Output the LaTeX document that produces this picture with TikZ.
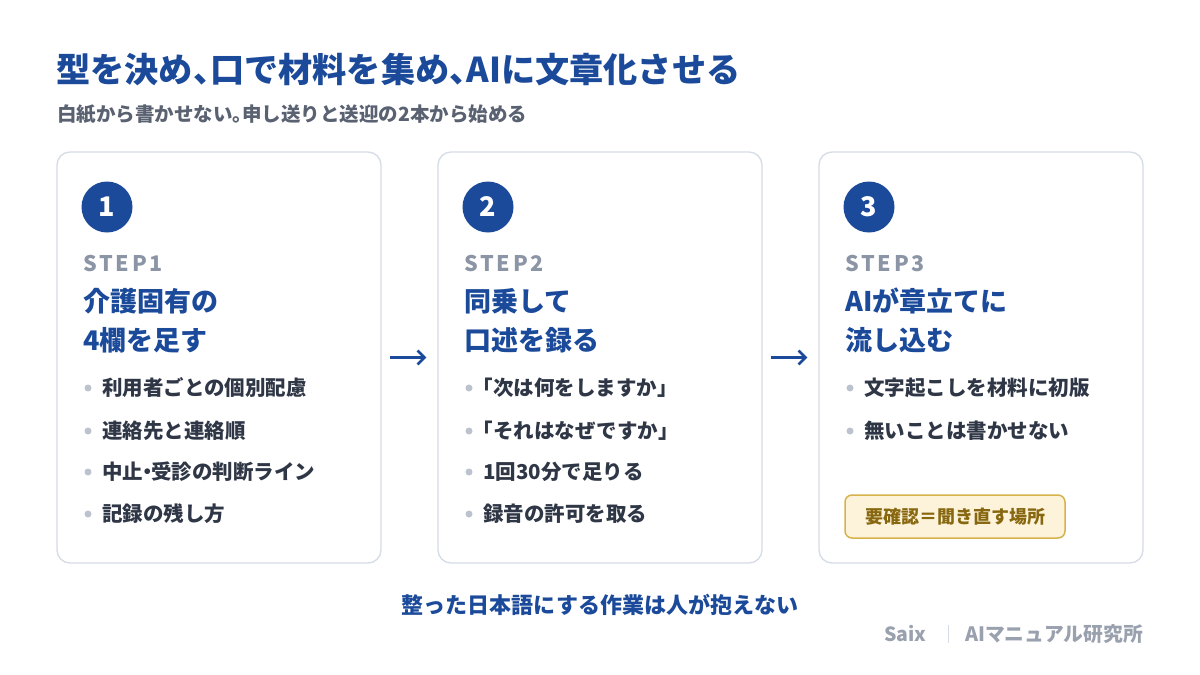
\documentclass[tikz,border=0pt]{standalone}
\usepackage{fontspec}
\setmainfont{Noto Sans CJK JP}
\newfontfamily\stepfont{Noto Sans CJK JP}[LetterSpace=13]
\usetikzlibrary{arrows.meta}
\definecolor{navy}{HTML}{1B4A9A}
\definecolor{subgray}{HTML}{5A6272}
\definecolor{steptxt}{HTML}{8C95A6}
\definecolor{bodytxt}{HTML}{2F3746}
\definecolor{dotc}{HTML}{BCC3CF}
\definecolor{cardline}{HTML}{D6DCE6}
\definecolor{badgefill}{HTML}{FDF3DA}
\definecolor{badgeline}{HTML}{D6B24C}
\definecolor{badgetxt}{HTML}{87670F}
\definecolor{foot}{HTML}{9AA1AE}
\newcommand{\hc}{\kern-0.5em}
\tikzset{
  card/.style={draw=cardline, line width=1.3pt, fill=white, rounded corners=13pt,
    minimum width=324pt, minimum height=411pt, inner sep=0pt},
  numcirc/.style={circle, fill=navy, minimum size=51pt, inner sep=0pt,
    text=white, font=\fontsize{27}{30}\selectfont\bfseries},
  steplabel/.style={anchor=west, inner sep=0pt, text=steptxt,
    font=\fontsize{21.5}{26}\stepfont\bfseries},
  headline/.style={anchor=west, inner sep=0pt, text=navy,
    font=\fontsize{27}{32}\selectfont\bfseries},
  item/.style={anchor=west, inner sep=0pt, text=bodytxt,
    font=\fontsize{20.5}{25}\selectfont\bfseries},
  bulletdot/.style={circle, fill=dotc, minimum size=7pt, inner sep=0pt},
  flow/.style={draw=navy, line width=2.6pt, -{Straight Barb[length=7pt,width=14pt,line width=2.6pt]}}
}
\begin{document}
\begin{tikzpicture}[x=1pt,y=-1pt]
\useasboundingbox (0,0) rectangle (1200,675);
\fill[white] (0,0) rectangle (1200,675);
% title
\node[anchor=west, inner sep=0pt, text=navy, font=\fontsize{34.2}{40}\selectfont\bfseries] (title) at (56,70) {型を決め、\hc 口で材料を集め、\hc AIに文章化させる};
\node[anchor=west, inner sep=0pt, text=subgray, font=\fontsize{19.5}{23}\selectfont\bfseries] (subtitle) at (57,114) {白紙から書かせない。\hc 申し送りと送迎の2本から始める};
% cards
\node[card] (c1) at (219,357.5) {};
\node[card] (c2) at (600,357.5) {};
\node[card] (c3) at (981,357.5) {};
% arrows
\draw[flow, shorten <=8pt, shorten >=11pt] (c1.east) -- (c2.west);
\draw[flow, shorten <=8pt, shorten >=11pt] (c2.east) -- (c3.west);
% card contents
\foreach \L/\n in {57/1, 438/2, 819/3}{
  \node[numcirc] (n\n) at (\L+50,207) {\n};
  \node[steplabel] (s\n) at (\L+26,263) {STEP\n};
}
\node[headline] (h1a) at (83,301) {介護固有の};
\node[headline] (h1b) at (83,340) {4欄を足す};
\node[headline] (h2a) at (464,301) {同乗して};
\node[headline] (h2b) at (464,340) {口述を録る};
\node[headline] (h3a) at (845,301) {AIが章立てに};
\node[headline] (h3b) at (845,340) {流し込む};
% bullets card 1
\foreach \y/\t [count=\i] in {388/利用者ごとの個別配慮, 431/連絡先と連絡順, 472/中止\kern-0.3em・\kern-0.3em 受診の判断ライン, 514/記録の残し方}{
  \node[bulletdot] (d1\i) at (88,\y) {};
  \node[item] (t1\i) at (102,\y) {\t};
}
% bullets card 2
\foreach \y/\t [count=\i] in {388/\hc「次は何をしますか」, 431/\hc「それはなぜですか」, 472/1回30分で足りる, 514/録音の許可を取る}{
  \node[bulletdot] (d2\i) at (469,\y) {};
  \node[item] (t2\i) at (483,\y) {\t};
}
% bullets card 3
\foreach \y/\t [count=\i] in {388/文字起こしを材料に初版, 431/無いことは書かせない}{
  \node[bulletdot] (d3\i) at (850,\y) {};
  \node[item] (t3\i) at (864,\y) {\t};
}
\node[draw=badgeline, line width=1.5pt, fill=badgefill, rounded corners=7pt,
  minimum width=220pt, minimum height=43pt, inner sep=0pt, text=badgetxt,
  font=\fontsize{18}{21}\selectfont\bfseries] (badge) at (955,516.5) {要確認＝聞き直す場所};
% bottom
\node[inner sep=0pt, text=navy, font=\fontsize{22}{26}\selectfont\bfseries] (bottom) at (600,605) {整った日本語にする作業は人が抱えない};
\node[anchor=west, inner sep=0pt, text=foot, font=\fontsize{19.5}{23}\selectfont\bfseries] (saix) at (884,634) {Saix};
\node[anchor=east, inner sep=0pt, text=foot, font=\fontsize{19.8}{23}\selectfont\bfseries] (lab) at (1143,634) {AIマニュアル研究所};
\coordinate (sepT) at (948,625);
\coordinate (sepB) at (948,643);
\draw[draw=cardline, line width=1pt] (sepT) -- (sepB);
\end{tikzpicture}
\end{document}
